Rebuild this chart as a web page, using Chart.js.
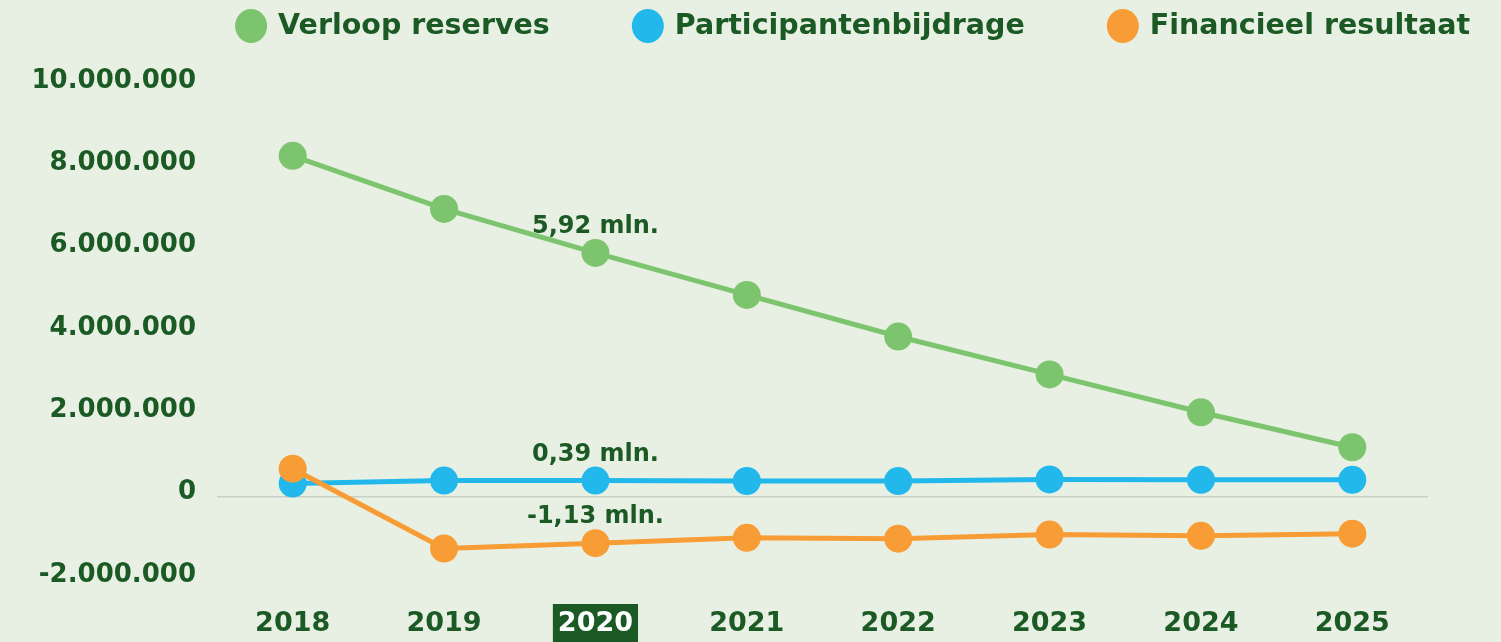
<!DOCTYPE html>
<html><head><meta charset="utf-8">
<script src="https://cdn.jsdelivr.net/npm/chart.js@4/dist/chart.umd.min.js"></script>
<style>html,body{margin:0;padding:0;background:#E8F0E4;overflow:hidden}</style>
</head><body>
<canvas id="c" width="1501" height="642" style="display:block;width:1501px;height:642px"></canvas>
<script>
const categories = ['2018', '2019', '2020', '2021', '2022', '2023', '2024', '2025'];
const verloopReserves = [8280000, 6990000, 5920000, 4900000, 3890000, 2970000, 2050000, 1200000];
const participantenbijdrage = [320000, 390000, 390000, 380000, 380000, 420000, 410000, 410000];
const financieelResultaat = [680000, -1260000, -1130000, -1000000, -1020000, -920000, -950000, -900000];
const seriesNames = ['Verloop reserves', 'Participantenbijdrage', 'Financieel resultaat'];
const yMin = -2000000, yMax = 10000000, yStep = 2000000;
const highlightIndex = 2;

const TEXT = '#1B5A24';
const COLORS = ['#7DC46E', '#22B8EC', '#F89C35'];
const FONT = "'DejaVu Sans', sans-serif";

function fmtThousands(v) {
  const s = Math.abs(v).toFixed(0).replace(/\B(?=(\d{3})+(?!\d))/g, '.');
  return (v < 0 ? '-' : '') + s;
}
function fmtMln(v) {
  return (v / 1e6).toFixed(2).replace('.', ',') + ' mln.';
}

const legendPlugin = {
  id: 'customLegend',
  afterDraw(chart) {
    const ctx = chart.ctx;
    ctx.save();
    ctx.font = 'bold 28.5px ' + FONT;
    ctx.textBaseline = 'middle';
    ctx.textAlign = 'left';
    const gap = 82, circleW = 32, textGap = 11;
    const ds = chart.data.datasets;
    const widths = ds.map(d => circleW + textGap + ctx.measureText(d.label).width);
    const total = widths.reduce((a, b) => a + b, 0) + gap * (ds.length - 1);
    let x = 1470 - total;
    const cy = 26;
    ds.forEach((d, i) => {
      ctx.fillStyle = d.borderColor;
      ctx.beginPath();
      ctx.ellipse(x + circleW / 2, cy, circleW / 2, 17, 0, 0, Math.PI * 2);
      ctx.fill();
      ctx.fillStyle = TEXT;
      ctx.fillText(d.label, x + circleW + textGap, cy + 1);
      x += widths[i] + gap;
    });
    ctx.restore();
  }
};

const annotPlugin = {
  id: 'annot',
  afterDatasetsDraw(chart) {
    const ctx = chart.ctx;
    ctx.save();
    ctx.font = 'bold 24px ' + FONT;
    ctx.fillStyle = TEXT;
    ctx.textAlign = 'center';
    ctx.textBaseline = 'middle';
    chart.data.datasets.forEach((d, i) => {
      const pt = chart.getDatasetMeta(i).data[highlightIndex];
      ctx.fillText(fmtMln(d.data[highlightIndex]), pt.x, pt.y - 26);
    });
    ctx.restore();
  }
};

const seriesData = [verloopReserves, participantenbijdrage, financieelResultaat];
const drawOrder = [2, 1, 0];

new Chart(document.getElementById('c'), {
  type: 'line',
  data: {
    labels: categories,
    datasets: seriesNames.map((name, i) => ({
      label: name,
      data: seriesData[i],
      borderColor: COLORS[i],
      backgroundColor: COLORS[i],
      borderWidth: 5,
      pointRadius: 14,
      pointHoverRadius: 14,
      pointBorderWidth: 0,
      tension: 0,
      fill: false,
      order: drawOrder[i]
    }))
  },
  options: {
    responsive: false,
    animation: false,
    devicePixelRatio: 1,
    layout: { padding: { top: 85, right: 73, bottom: 0, left: 0 } },
    plugins: { legend: { display: false }, tooltip: { enabled: false } },
    events: [],
    scales: {
      x: {
        type: 'category',
        offset: true,
        grid: { display: false, drawTicks: false },
        border: { display: false },
        ticks: {
          font: { family: FONT, size: 27, weight: 'bold' },
          color: c => c.index === highlightIndex ? '#FFFFFF' : TEXT,
          padding: 29,
          showLabelBackdrop: c => c.index === highlightIndex,
          backdropColor: '#1B5A24',
          backdropPadding: { x: 5, y: 4 },
          maxRotation: 0,
          autoSkip: false
        },
        afterFit: s => { s.height = 63; }
      },
      y: {
        min: yMin,
        max: yMax,
        grid: {
          drawTicks: false,
          color: c => (c.tick && c.tick.value === 0) ? '#C9CFC6' : 'rgba(0,0,0,0)',
          lineWidth: 1.5
        },
        border: { display: false },
        ticks: {
          stepSize: yStep,
          font: { family: FONT, size: 26, weight: 'bold' },
          color: TEXT,
          padding: 21,
          labelOffset: -4,
          callback: v => fmtThousands(v)
        },
        afterFit: s => { s.width = 217; }
      }
    }
  },
  plugins: [legendPlugin, annotPlugin]
});
</script>
</body></html>
